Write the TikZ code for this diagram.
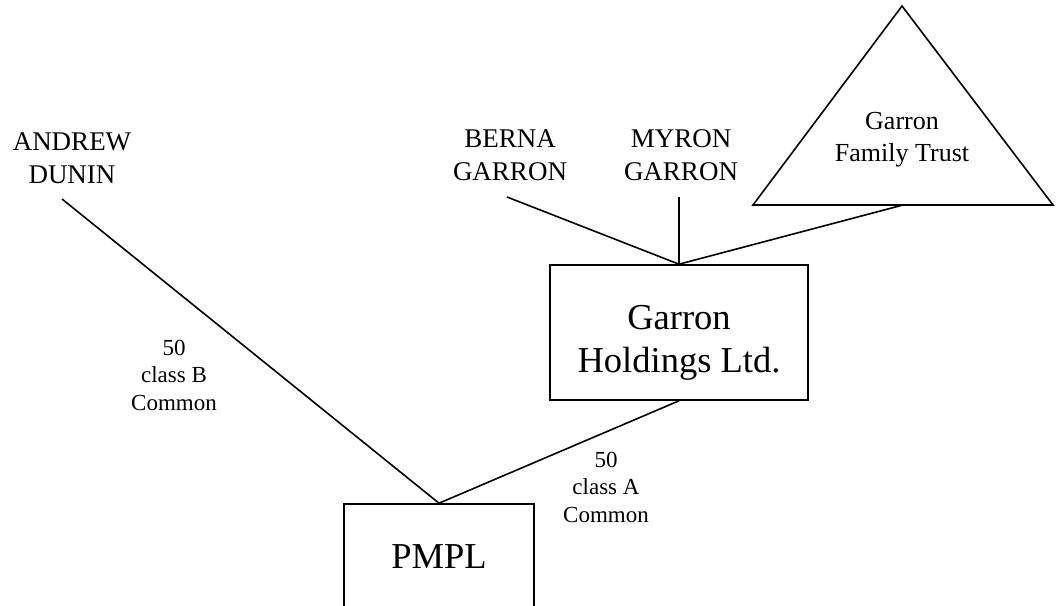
\documentclass[tikz,border=0pt]{standalone}
\usepackage{fontspec}
\setmainfont{Liberation Serif}

\begin{document}
\begin{tikzpicture}[x=1pt,y=-1pt,
        owner/.style={align=center, inner sep=0pt, font=\fontsize{27}{33}\selectfont},
        shares/.style={align=center, inner sep=0pt, font=\fontsize{23}{27.5}\selectfont},
        company/.style={draw, line width=1.6pt, inner sep=0pt, font=\fontsize{36.5}{42.7}\selectfont},
        link/.style={line width=1.6pt}]
    \useasboundingbox (0,0) rectangle (1057,605);
    \clip (0,0) rectangle (1057,605);

    %shareholders and their line ends
        \node[owner] (andrew) at (72,158) {ANDREW\\DUNIN};
        \node[owner] (berna) at (510,155) {BERNA\\GARRON};
        \node[owner] (myron) at (681,155) {MYRON\\GARRON};
        \coordinate (andrewfoot) at (62,199);
        \coordinate (bernafoot) at (507,197);
        \coordinate (myronfoot) at (679,197);

    %family trust
        \coordinate (trusttop) at (902,6);
        \coordinate (trustright) at (1053,205);
        \coordinate (trustleft) at (753,205);
        \coordinate (trustbase) at (903,205);
        \draw[link] (trusttop) -- (trustright) -- (trustleft) -- cycle;
        \node[owner, font=\fontsize{26}{32}\selectfont] (trust) at (902,140) {Garron\\Family Trust};

    %companies
        \node[company, minimum width=258pt, minimum height=135pt] (holdings) at (679,332.5) {};
        \node[align=center, inner sep=0pt, font=\fontsize{36.5}{42.7}\selectfont] (holdingstext) at (679,343) {Garron\\Holdings Ltd.};
        \node[company, minimum width=190pt, minimum height=106pt] (pmpl) at (439,557) {PMPL};

    %share classes
        \node[shares] (classB) at (174,375) {50\\class B\\Common};
        \node[shares] (classA) at (606,487) {50\\class A\\Common};

    %ownership lines
        \draw[link] (andrewfoot) -- (pmpl.north);
        \draw[link] (holdings.south) -- (pmpl.north);
        \draw[link] (bernafoot) -- (holdings.north);
        \draw[link] (myronfoot) -- (holdings.north);
        \draw[link] (trustbase) -- (holdings.north);

\end{tikzpicture}
\end{document}
